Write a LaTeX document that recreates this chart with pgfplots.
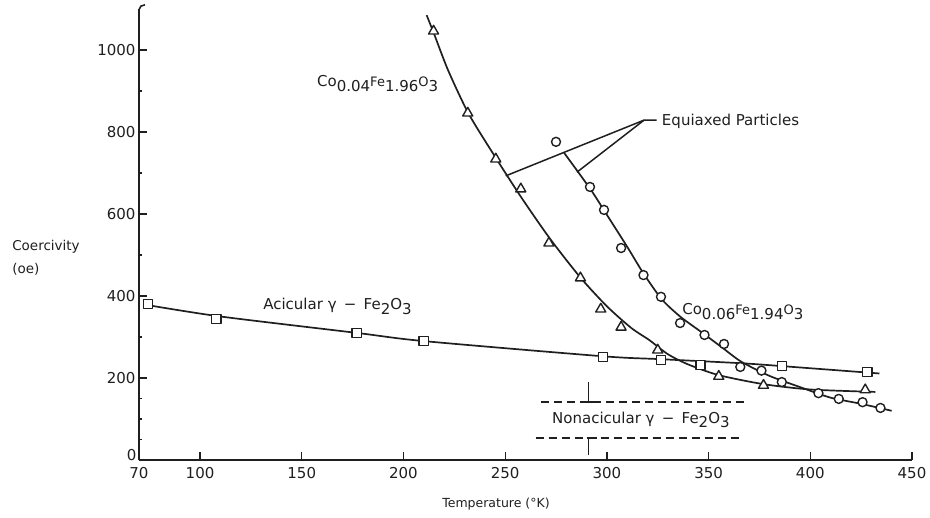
\documentclass[border=0pt]{standalone}
\usepackage{pgfplots}
\pgfplotsset{compat=1.18}
\usepackage{fontspec}
\setmainfont{DejaVu Sans}

\newcommand{\lab}{\fontsize{15}{18}\selectfont}
\newcommand{\sm}{\fontsize{13}{15}\selectfont}
\newcommand{\dn}[1]{\raisebox{-4.5pt}{#1}}
\colorlet{ink}{black!88}

\begin{document}
\begin{tikzpicture}[x=1pt,y=1pt]
\path[use as bounding box] (0,0) rectangle (930,518);
\begin{axis}[
    at={(139pt,58pt)}, anchor=south west,
    scale only axis, width=773pt, height=451pt,
    xmin=70, xmax=450, ymin=0, ymax=1100,
    axis lines=left,
    axis line style={-, line width=1.6pt, draw=ink},
    xtick={70,100,150,200,250,300,350,400,450},
    ytick={200,400,600,800,1000},
    extra y ticks={0},
    extra y tick style={yticklabel style={yshift=5pt, xshift=1pt}},
    minor ytick={50,100,150,300,500,700,900},
    tick align=inside,
    major tick length=8pt, minor tick length=3pt,
    tick style={line width=1.3pt, draw=ink},
    tick label style={font=\lab, text=ink},
    xticklabel style={yshift=-4pt},
    /pgf/number format/assume math mode=true,
    /pgf/number format/1000 sep={},
    clip=false,
    every axis plot/.append style={line width=1.7pt, draw=ink, line join=round},
]
% fitted curves
\addplot[smooth, tension=0.45] coordinates {
    (74,378) (110,350) (177,310) (210,290) (298,253) (326,246)
    (366,236) (386,229) (434,211)
};
\addplot[smooth, tension=0.45] coordinates {
    (211.4,1085) (215,1040) (222,950) (232,845) (245,740) (258,640)
    (272,540) (287,445) (300,375) (312,322) (321,292) (330,258)
    (340,233) (355,207) (377,185) (400,172) (432,166)
};
\addplot[smooth, tension=0.45] coordinates {
    (279,749) (292,660) (300,598) (310,520) (318,455) (327,392)
    (336,350) (347,310) (357,273) (366,240) (380,205) (396,176)
    (410,152) (425,137) (440,120)
};

% measured points
\addplot[only marks, mark=square*, mark size=4.6pt,
    mark options={fill=white, draw=ink, line width=1.4pt}] coordinates {
    (74.4,380) (108,344) (177,310) (210,290) (298,251) (326.6,244)
    (346,232) (386,229) (428,215)
};
\addplot[only marks, mark=triangle*, mark size=5.8pt,
    mark options={fill=white, draw=ink, line width=1.4pt}] coordinates {
    (214.8,1046) (231.6,846) (245.4,734) (257.7,661) (271.5,529)
    (287,444) (297,368) (307,324) (325,268) (355,204) (377,182) (427,171)
};
\addplot[only marks, mark=*, mark size=4.5pt,
    mark options={fill=white, draw=ink, line width=1.4pt}] coordinates {
    (275,776) (291.7,666) (298.6,610) (307,517) (318,451) (326.6,398)
    (336,334) (348,305) (357.6,283) (365.6,227) (376,218) (386,190)
    (404,163) (414,149) (425.7,141) (434.5,127)
};

% top hook of the y axis
\draw[ink, line width=1.6pt] (axis cs:70,1098) to[out=90,in=180] ++(6pt,5pt);

% labels
\node[anchor=base west, font=\lab, text=ink, inner sep=0pt] at (axis cs:157.5,910)
    {Co\dn{0.04}{\sm Fe}\dn{1.96}{\sm O}\dn{3}};
\node[anchor=base west, font=\lab, text=ink, inner sep=0pt] at (axis cs:337,354)
    {Co\dn{0.06}{\sm Fe}\dn{1.94}{\sm O}\dn{3}};
\node[anchor=base west, font=\lab, text=ink, inner sep=0pt] at (axis cs:131,366)
    {Acicular γ \,−\, Fe\dn{2}O\dn{3}};
\node[anchor=base west, font=\lab, text=ink, inner sep=0pt] at (axis cs:273,90)
    {Nonacicular γ \,−\, Fe\dn{2}O\dn{3}};
\node[anchor=base west, font=\lab, text=ink, inner sep=0pt] at (axis cs:327,815)
    {Equiaxed Particles};

\draw[ink, line width=1.5pt] (axis cs:250.3,693) -- (axis cs:318.3,829)
    -- (axis cs:324.5,829);
\draw[ink, line width=1.5pt] (axis cs:285.3,702) -- (axis cs:318.3,829);

% nonacicular band
\draw[ink, line width=1.5pt, dash pattern=on 8pt off 5pt] (axis cs:267.5,141) -- (axis cs:368.5,141);
\draw[ink, line width=1.5pt, dash pattern=on 8pt off 5pt] (axis cs:265,54) -- (axis cs:366,54);
\draw[ink, line width=1.5pt] (axis cs:291,141) -- (axis cs:291,190);
\draw[ink, line width=1.5pt] (axis cs:288,141) -- (axis cs:294.5,141);
\draw[ink, line width=1.5pt] (axis cs:291,54) -- (axis cs:291,12);
\draw[ink, line width=1.5pt] (axis cs:290.3,54) -- (axis cs:295,54);

% axis titles
\node[anchor=base west, font=\fontsize{13.5}{16}\selectfont, text=ink, inner sep=0pt]
    at (axis cs:7.6,510) {Coercivity};
\node[anchor=base west, font=\fontsize{13.5}{16}\selectfont, text=ink, inner sep=0pt]
    at (axis cs:7.6,456) {(oe)};
\node[anchor=base west, font=\fontsize{12.5}{15}\selectfont, text=ink, inner sep=0pt]
    at (axis cs:219,-115) {Temperature (°K)};
\end{axis}
\end{tikzpicture}
\end{document}
